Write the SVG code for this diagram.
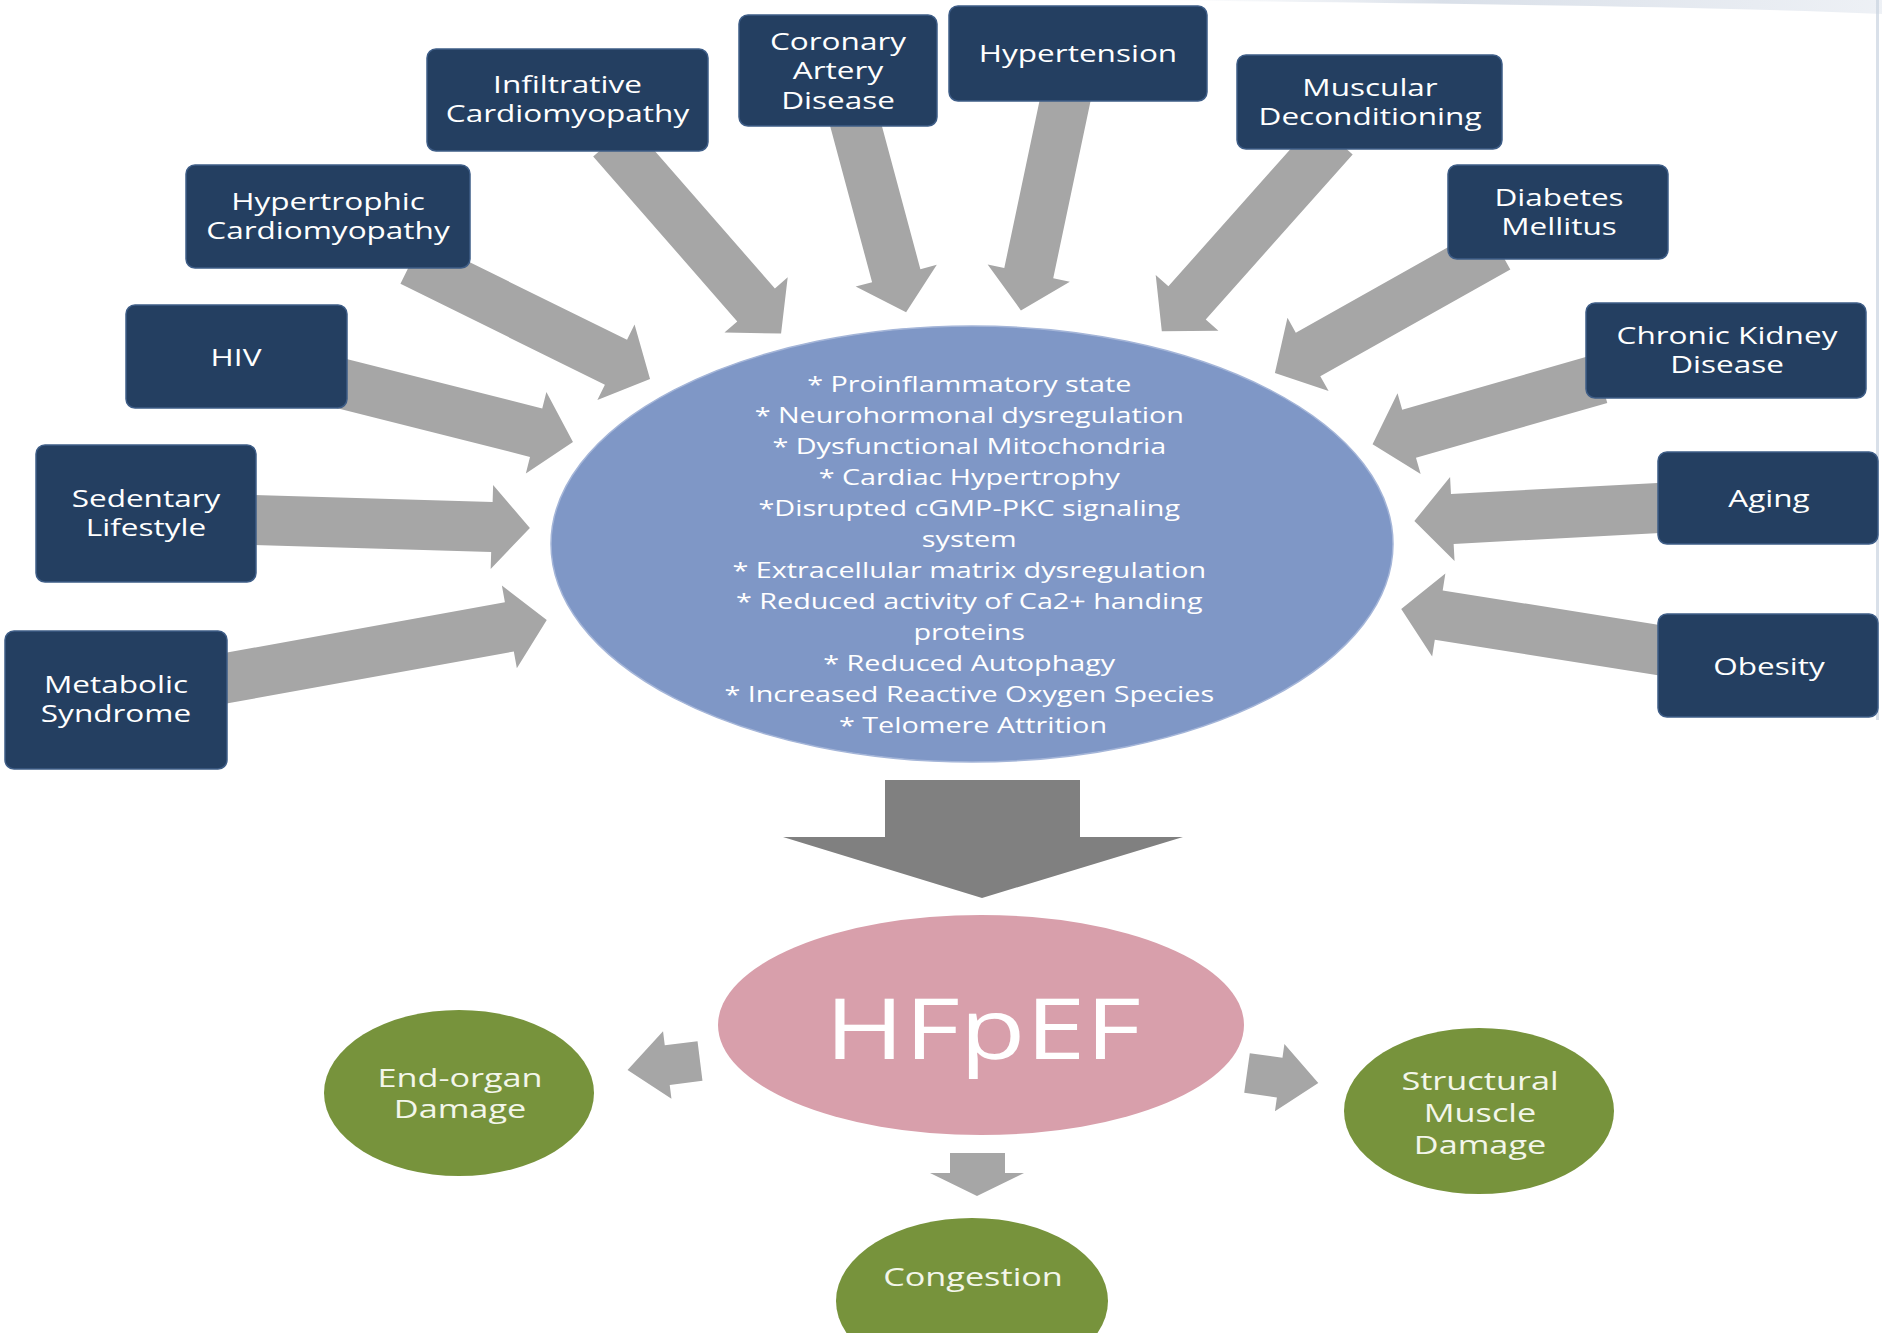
<svg xmlns="http://www.w3.org/2000/svg" width="1882" height="1333" viewBox="0 0 1882 1333">
<defs>
<linearGradient id="topband" x1="0" y1="0" x2="1" y2="0">
<stop offset="0" stop-color="#E4E9F0" stop-opacity="0"/>
<stop offset="0.4" stop-color="#D5DCE6" stop-opacity="0.9"/>
<stop offset="1" stop-color="#E9EDF3" stop-opacity="0.8"/>
</linearGradient>
</defs>
<style>
.box{fill:#243F61;stroke:#3E5D87;stroke-width:1.5}
.t{font-family:"Open Sans","Noto Sans",sans-serif;fill:#FFFFFF;text-anchor:middle}
.bt{font-size:23px}
.et{font-size:21px}
.gt{font-size:25px;fill:#F3F6EA}
.arr{fill:#A6A6A6}
.green{fill:#77933C}
</style>
<rect x="0" y="0" width="1882" height="1333" fill="#FFFFFF"/>
<path d="M1150,0 H1882 V14 C1700,6 1450,4 1150,0 Z" fill="url(#topband)"/>
<rect x="1876" y="0" width="3" height="720" fill="#C9D3E0" opacity="0.7"/>

<g id="connectors">
<path class="arr" transform="translate(612,140) rotate(48.86)" d="M0,-25H219V-42L257,0L219,42V25H0Z"/>
<path class="arr" transform="translate(411.5,261.4) rotate(26.26)" d="M0,-25H228V-42L266,0L228,42V25H0Z"/>
<path class="arr" transform="translate(332.5,381.3) rotate(14.16)" d="M0,-25H210V-42L248,0L210,42V25H0Z"/>
<path class="arr" transform="translate(241,519.6) rotate(1.67)" d="M0,-25H251V-42L289,0L251,42V25H0Z"/>
<path class="arr" transform="translate(212.2,680.7) rotate(-10.27)" d="M0,-25H302V-42L340,0L302,42V25H0Z"/>
<path class="arr" transform="translate(852.1,111.5) rotate(74.95)" d="M0,-25H170V-42L208,0L170,42V25H0Z"/>
<path class="arr" transform="translate(1068.1,86.3) rotate(101.89)" d="M0,-25H191V-42L229,0L191,42V25H0Z"/>
<path class="arr" transform="translate(1334,137.8) rotate(131.67)" d="M0,-25H221V-42L259,0L221,42V25H0Z"/>
<path class="arr" transform="translate(1498.1,247.7) rotate(150.67)" d="M0,-25H218V-42L256,0L218,42V25H0Z"/>
<path class="arr" transform="translate(1600.4,378.9) rotate(164.02)" d="M0,-25H199V-42L237,0L199,42V25H0Z"/>
<path class="arr" transform="translate(1673,507.2) rotate(176.95)" d="M0,-25H221V-42L259,0L221,42V25H0Z"/>
<path class="arr" transform="translate(1672.8,652.4) rotate(189.06)" d="M0,-25H237V-42L275,0L237,42V25H0Z"/>
<path fill="#808080" d="M885,780H1080V837H1183L982,898L783,837H885Z"/>
<path class="arr" transform="translate(700,1061) rotate(172.9)" d="M0,-20H33V-34L73,0L33,34V20H0Z"/>
<path class="arr" transform="translate(1247,1073) rotate(8)" d="M0,-20H33V-34L72,0L33,34V20H0Z"/>
<path class="arr" d="M950,1153H1005V1173H1024L977,1196L930,1173H950Z"/>
</g>

<g id="infiltrative">
<rect class="box" x="427" y="49" width="281" height="102" rx="9"/>
<text class="t bt" transform="translate(567.5,93) scale(1.37,1)"><tspan x="0" y="0">Infiltrative</tspan><tspan x="0" y="29">Cardiomyopathy</tspan></text>
</g>
<g id="hypertrophic">
<rect class="box" x="186" y="165" width="284" height="103" rx="9"/>
<text class="t bt" transform="translate(328,210) scale(1.37,1)"><tspan x="0" y="0">Hypertrophic</tspan><tspan x="0" y="29">Cardiomyopathy</tspan></text>
</g>
<g id="hiv">
<rect class="box" x="126" y="305" width="221" height="103" rx="9"/>
<text class="t bt" transform="translate(236,366) scale(1.37,1)">HIV</text>
</g>
<g id="sedentary">
<rect class="box" x="36" y="445" width="220" height="137" rx="9"/>
<text class="t bt" transform="translate(146,507) scale(1.37,1)"><tspan x="0" y="0">Sedentary</tspan><tspan x="0" y="29">Lifestyle</tspan></text>
</g>
<g id="metabolic">
<rect class="box" x="5" y="631" width="222" height="138" rx="9"/>
<text class="t bt" transform="translate(116,693) scale(1.37,1)"><tspan x="0" y="0">Metabolic</tspan><tspan x="0" y="29">Syndrome</tspan></text>
</g>
<g id="coronary">
<rect class="box" x="739" y="15" width="198" height="111" rx="9"/>
<text class="t bt" transform="translate(838,50) scale(1.37,1)"><tspan x="0" y="0">Coronary</tspan><tspan x="0" y="29.5">Artery</tspan><tspan x="0" y="59">Disease</tspan></text>
</g>
<g id="hypertension">
<rect class="box" x="949" y="6" width="258" height="95" rx="9"/>
<text class="t bt" transform="translate(1078,62) scale(1.37,1)">Hypertension</text>
</g>
<g id="muscular">
<rect class="box" x="1237" y="55" width="265" height="94" rx="9"/>
<text class="t bt" transform="translate(1370,96) scale(1.37,1)"><tspan x="0" y="0">Muscular</tspan><tspan x="0" y="29">Deconditioning</tspan></text>
</g>
<g id="diabetes">
<rect class="box" x="1448" y="165" width="220" height="94" rx="9"/>
<text class="t bt" transform="translate(1559,206) scale(1.37,1)"><tspan x="0" y="0">Diabetes</tspan><tspan x="0" y="29">Mellitus</tspan></text>
</g>
<g id="ckd">
<rect class="box" x="1586" y="303" width="280" height="95" rx="9"/>
<text class="t bt" transform="translate(1727,344) scale(1.37,1)"><tspan x="0" y="0">Chronic Kidney</tspan><tspan x="0" y="29">Disease</tspan></text>
</g>
<g id="aging">
<rect class="box" x="1658" y="452" width="220" height="92" rx="9"/>
<text class="t bt" transform="translate(1769,507) scale(1.37,1)">Aging</text>
</g>
<g id="obesity">
<rect class="box" x="1658" y="614" width="220" height="103" rx="9"/>
<text class="t bt" transform="translate(1769,675) scale(1.37,1)">Obesity</text>
</g>

<g id="mechanisms">
<ellipse cx="972" cy="544" rx="421" ry="218" fill="#7F97C6" stroke="#A4B5D8" stroke-width="1.5"/>
<text class="t et" transform="translate(973,392) scale(1.37,1)">
<tspan x="0" y="0">* Proinflammatory state</tspan>
<tspan x="0" y="31">* Neurohormonal dysregulation</tspan>
<tspan x="0" y="62">* Dysfunctional Mitochondria</tspan>
<tspan x="0" y="93">* Cardiac Hypertrophy</tspan>
<tspan x="0" y="124">*Disrupted cGMP-PKC signaling</tspan>
<tspan x="0" y="155">system</tspan>
<tspan x="0" y="186">* Extracellular matrix dysregulation</tspan>
<tspan x="0" y="217">* Reduced activity of Ca2+ handing</tspan>
<tspan x="0" y="248">proteins</tspan>
<tspan x="0" y="279">* Reduced Autophagy</tspan>
<tspan x="0" y="310">* Increased Reactive Oxygen Species</tspan>
<tspan x="0" y="341">* Telomere Attrition</tspan>
</text>
</g>

<g id="hfpef">
<ellipse cx="981" cy="1025" rx="263" ry="110" fill="#D89FAB"/>
<text class="t" style="font-size:84px" transform="translate(983,1059) scale(1.28,1)">HFpEF</text>
</g>
<g id="endorgan">
<ellipse class="green" cx="459" cy="1093" rx="135" ry="83"/>
<text class="t gt" transform="translate(460,1087) scale(1.37,1)"><tspan x="0" y="0">End-organ</tspan><tspan x="0" y="31">Damage</tspan></text>
</g>
<g id="structural">
<ellipse class="green" cx="1479" cy="1111" rx="135" ry="83"/>
<text class="t gt" transform="translate(1480,1090) scale(1.37,1)"><tspan x="0" y="0">Structural</tspan><tspan x="0" y="32">Muscle</tspan><tspan x="0" y="64">Damage</tspan></text>
</g>
<g id="congestion">
<ellipse class="green" cx="972" cy="1301" rx="136" ry="83"/>
<text class="t gt" transform="translate(973,1286) scale(1.37,1)">Congestion</text>
</g>
</svg>
